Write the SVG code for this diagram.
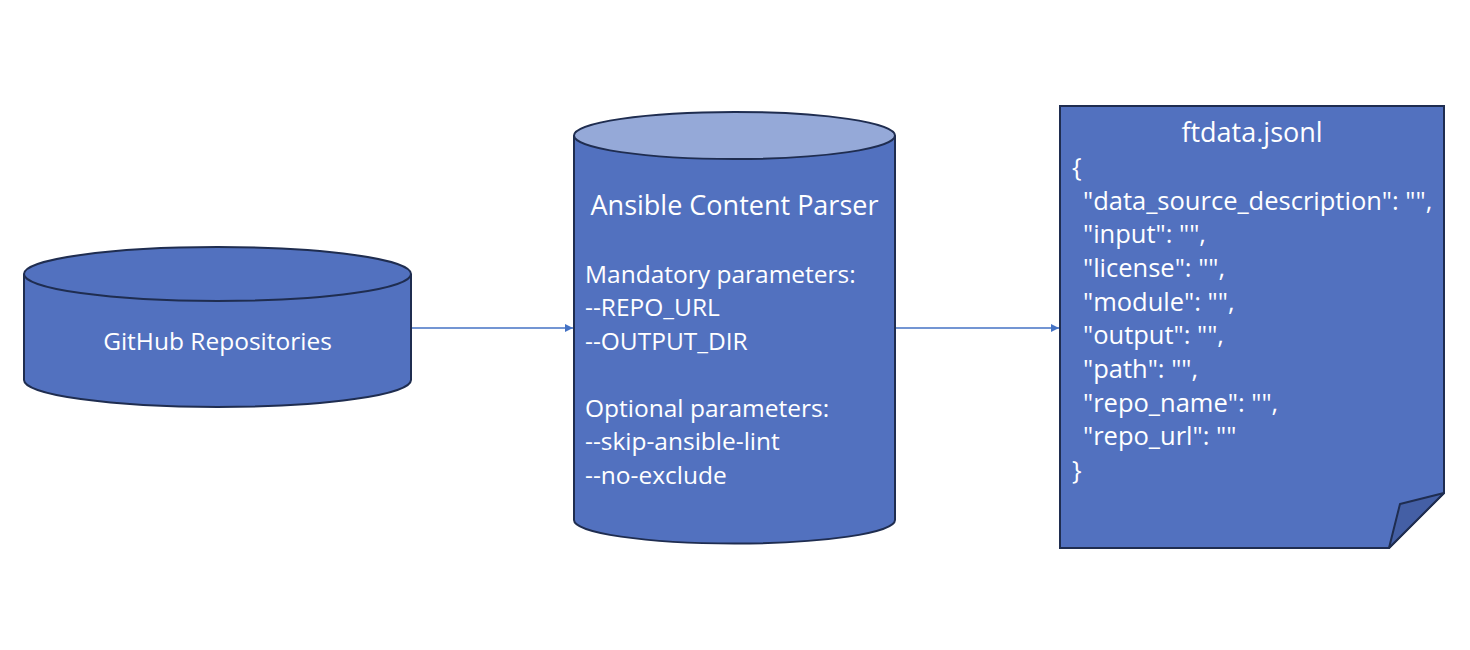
<svg xmlns="http://www.w3.org/2000/svg" width="1470" height="650" viewBox="0 0 1470 650">
<style>
.shape{fill:#5271BF;stroke:#1F2D50;stroke-width:2}
.top{fill:#95A9D8;stroke:#1F2D50;stroke-width:2}
.t{font-family:"Open Sans","Noto Sans",sans-serif;font-size:24.5px;fill:#FFFFFF}
.d{font-size:25.5px}
.h{font-size:27px}
.c{text-anchor:middle}
.conn{stroke:#4472C4;stroke-width:1.3;fill:none}
</style>
<defs>
<marker id="arr" markerWidth="8" markerHeight="8" refX="8" refY="4" orient="auto" markerUnits="userSpaceOnUse">
<path d="M0,0 L8,4 L0,8 Z" fill="#4472C4"/>
</marker>
</defs>
<rect width="1470" height="650" fill="#FFFFFF"/>
<g id="connectors">
<line class="conn" x1="411" y1="328" x2="573" y2="328" marker-end="url(#arr)"/>
<line class="conn" x1="895" y1="328" x2="1059" y2="328" marker-end="url(#arr)"/>
</g>
<g id="github">
<path class="shape" d="M24,274 L24,380 A193.5,27 0 0 0 411,380 L411,274"/>
<ellipse class="shape" cx="217.5" cy="274" rx="193.5" ry="27"/>
<text class="t c" x="217.5" y="350">GitHub Repositories</text>
</g>
<g id="parser">
<path class="shape" d="M574,135.5 L574,520 A160.5,23.5 0 0 0 895,520 L895,135.5"/>
<ellipse class="top" cx="734.5" cy="135.5" rx="160.5" ry="23.5"/>
<text class="t c h" x="734.5" y="215">Ansible Content Parser</text>
<text class="t" x="585" y="283">Mandatory parameters:</text>
<text class="t" x="585" y="316">--REPO_URL</text>
<text class="t" x="585" y="350">--OUTPUT_DIR</text>
<text class="t" x="585" y="417">Optional parameters:</text>
<text class="t" x="585" y="450">--skip-ansible-lint</text>
<text class="t" x="585" y="484">--no-exclude</text>
</g>
<g id="ftdata">
<path class="shape" d="M1060,106 L1444,106 L1444,493 L1389,548 L1060,548 Z"/>
<path d="M1389,548 L1400,504 L1444,493 Z" fill="#445FA5" stroke="#1F2D50" stroke-width="2" stroke-linejoin="round"/>
<text class="t c h" x="1252" y="142">ftdata.jsonl</text>
<text class="t d" x="1072" y="176">{</text>
<text class="t d" x="1083" y="210">"data_source_description": "",</text>
<text class="t d" x="1083" y="243">"input": "",</text>
<text class="t d" x="1083" y="277">"license": "",</text>
<text class="t d" x="1083" y="311">"module": "",</text>
<text class="t d" x="1083" y="344">"output": "",</text>
<text class="t d" x="1083" y="378">"path": "",</text>
<text class="t d" x="1083" y="412">"repo_name": "",</text>
<text class="t d" x="1083" y="445">"repo_url": ""</text>
<text class="t d" x="1072" y="479">}</text>
</g>
</svg>
